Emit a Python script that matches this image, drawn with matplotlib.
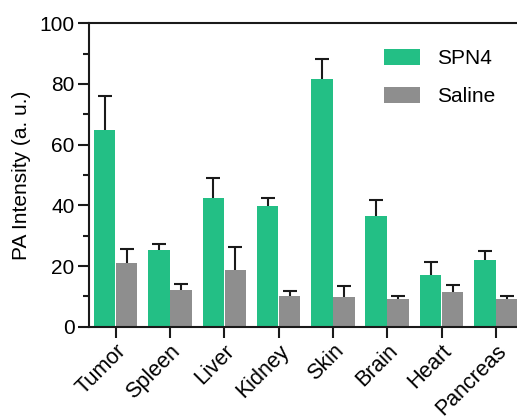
import numpy as np
import matplotlib
matplotlib.use("Agg")
import matplotlib.pyplot as plt
from matplotlib.ticker import MultipleLocator

plt.rcParams['font.family'] = ['Liberation Sans', 'DejaVu Sans']

organi = ["Tumor", "Spleen", "Liver", "Kidney", "Skin", "Brain", "Heart", "Pancreas"]
spn4 = [64.8, 25.2, 42.3, 39.8, 81.6, 36.5, 17.0, 22.0]
spn4_err = [11.3, 2.2, 6.6, 2.7, 6.5, 5.4, 4.3, 2.8]
saline = [21.0, 12.1, 18.6, 10.1, 9.8, 9.1, 11.4, 9.1]
saline_err = [4.6, 2.0, 7.6, 1.8, 3.6, 1.0, 2.2, 1.0]

verde = "#23BF85"
grigio = "#8E8E8E"
nero = "#1a1a1a"
fs = 15

fig = plt.figure(figsize=(5.17, 4.18), dpi=100)
ax = fig.add_axes([88.5/517, 1-326.7/418, (523-88.5)/517, (326.7-23.3)/418])

x = np.arange(len(organi))
w = 0.395
x1 = x - w/2 - 0.005
x2 = x + w/2 + 0.005
ax.bar(x1, spn4, w, color=verde, label="SPN4")
ax.bar(x2, saline, w, color=grigio, label="Saline")

# barre di errore solo verso l'alto
for xx, yy, ee in [(x1, spn4, spn4_err), (x2, saline, saline_err)]:
    eb = ax.errorbar(xx, yy, yerr=[np.zeros(len(yy)), ee], fmt="none", ecolor=nero,
                     elinewidth=1.5, capthick=1.5, capsize=5)
    eb[1][0].set_visible(False)

ax.set_xlim(-0.5, 7.5)
ax.set_ylim(0, 100)
ax.yaxis.set_major_locator(MultipleLocator(20))
ax.yaxis.set_minor_locator(MultipleLocator(10))
ax.set_xticks(x)
ax.set_xticklabels(organi, rotation=45, ha="right", rotation_mode="anchor", fontsize=15.5)
ax.tick_params(axis="y", labelsize=fs, width=1.5, length=8, color=nero, pad=2)
ax.tick_params(axis="y", which="minor", width=1.5, length=4, color=nero)
ax.tick_params(axis="x", width=1.5, length=8, color=nero, pad=2)
for s in ["left", "bottom", "top"]:
    ax.spines[s].set_linewidth(1.5)
    ax.spines[s].set_color(nero)
ax.spines["right"].set_visible(False)
ax.set_ylabel("PA Intensity (a. u.)", fontsize=fs, labelpad=6)

ax.legend(loc="upper left", bbox_to_anchor=(384/517, 1-49/418), bbox_transform=fig.transFigure,
          frameon=False, fontsize=fs, borderpad=0, borderaxespad=0,
          handlelength=1.75, handleheight=0.8, handletextpad=0.8, labelspacing=0.9)

plt.savefig("out.png", dpi=100)
